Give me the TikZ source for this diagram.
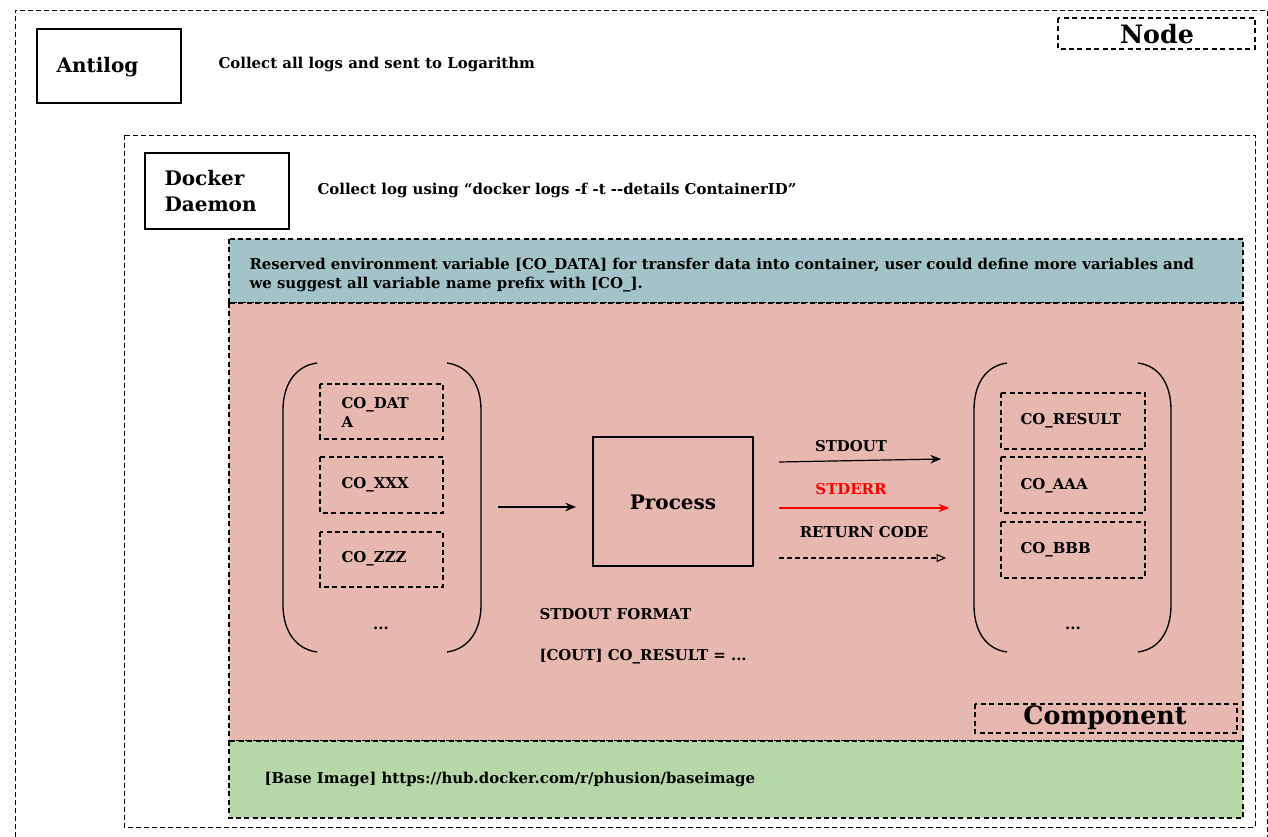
\documentclass[tikz,border=0pt]{standalone}
\usepackage{fontspec}
\setmainfont{DejaVu Serif}
\usetikzlibrary{arrows.meta}

\definecolor{envblue}{HTML}{A2C4C9}
\definecolor{comppink}{HTML}{E6B8AF}
\definecolor{basegreen}{HTML}{B6D7A8}
\definecolor{errred}{HTML}{FF0000}

\tikzset{every picture/.style={line width=0.75pt},
  dashbox/.style={dash pattern=on 3.8pt off 2.5pt, line width=0.9pt},
  thindash/.style={dash pattern=on 3.5pt off 2.5pt, line width=0.6pt},
  txt/.style={font=\fontsize{11.2}{14.25}\selectfont\bfseries, inner sep=0.75pt, align=left},
  midtxt/.style={font=\fontsize{15}{19.5}\selectfont\bfseries, inner sep=0.75pt, align=left},
  bigtxt/.style={font=\fontsize{19}{22}\selectfont\bfseries, inner sep=0.75pt},
  paren/.style={line width=1pt},
  arr/.style={-{Stealth[length=8pt,width=6.5pt]}, line width=0.9pt}
}

\begin{document}
\begin{tikzpicture}[x=0.75pt,y=0.75pt,yscale=-1,xscale=1]
\useasboundingbox (0,0) rectangle (1268,837);

%Shape: Node area
\draw [thindash] (15,845) -- (15,10) -- (1267,10) -- (1267,845) ;
\draw [dashbox] (1058,18) rectangle (1255,49) ;
% Text Node
\draw (1157,34) node [bigtxt] (nodetag) {Node};

%Shape: Antilog
\draw [line width=1.1pt] (37,29) rectangle (181,103) ;
\draw (55,67) node [anchor=west][midtxt] (antilog) {Antilog};
\draw (217,64) node [anchor=west][txt] (antilognote) {Collect all logs and sent to Logarithm};

%Shape: Docker area
\draw [thindash] (124,135) rectangle (1255,827) ;
\draw [line width=1.1pt] (145,153) rectangle (289,229) ;
\draw (163,191) node [anchor=west][midtxt] (daemon) {Docker\\Daemon};
\draw (316,190) node [anchor=west][txt] (daemonnote) {Collect log using “docker logs -f -t -{}-details ContainerID”};

%Shape: Container bands
\draw [dashbox, fill=envblue] (229,239) rectangle (1243,303) ;
\draw [dashbox, fill=comppink] (229,303) rectangle (1243,741) ;
\draw [dashbox, fill=basegreen] (229,741) rectangle (1243,818) ;
\draw (248,275) node [anchor=west][txt] (envnote) {Reserved environment variable [CO\_DATA] for transfer data into container, user could define more variables and\\we suggest all variable name prefix with [CO\_].};
\draw (263,779) node [anchor=west][txt] (basenote) {[Base Image] https://hub.docker.com/r/phusion/baseimage};
\draw [dashbox] (975,704) rectangle (1237,733) ;
\draw (1105,718) node [bigtxt] (comptag) {Component};

%Shape: Input group
\draw [paren] (317,363) .. controls (295,366) and (283,385) .. (283,410) -- (283,605) .. controls (283,630) and (295,649) .. (317,652) ;
\draw [paren] (447,363) .. controls (469,366) and (481,385) .. (481,410) -- (481,605) .. controls (481,630) and (469,649) .. (447,652) ;
\draw [dashbox] (320,384) rectangle (443,439) ;
\draw [dashbox] (320,457) rectangle (443,513) ;
\draw [dashbox] (320,532) rectangle (443,587) ;
\draw (340,412) node [anchor=west][txt] (codata) {CO\_DAT\\A};
\draw (340,485) node [anchor=west][txt] (coxxx) {CO\_XXX};
\draw (340,559) node [anchor=west][txt] (cozzz) {CO\_ZZZ};
\draw (381,628) node [txt] (inmore) {...};

%Shape: Process
\draw [line width=1.1pt] (593,437) rectangle (753,566) ;
\draw (673,502) node [midtxt] (process) {Process};

%Shape: Output group
\draw [paren] (1007,363) .. controls (985,366) and (974,385) .. (974,410) -- (974,605) .. controls (974,630) and (985,649) .. (1007,652) ;
\draw [paren] (1138,363) .. controls (1160,366) and (1171,385) .. (1171,410) -- (1171,605) .. controls (1171,630) and (1160,649) .. (1138,652) ;
\draw [dashbox] (1001,393) rectangle (1145,449) ;
\draw [dashbox] (1001,457) rectangle (1145,513) ;
\draw [dashbox] (1001,522) rectangle (1145,578) ;
\draw (1019,421) node [anchor=west][txt] (coresult) {CO\_RESULT};
\draw (1019,486) node [anchor=west][txt] (coaaa) {CO\_AAA};
\draw (1019,550) node [anchor=west][txt] (cobbb) {CO\_BBB};
\draw (1073,628) node [txt] (outmore) {...};

%Straight Lines
\coordinate (inStart) at (498,507);
\coordinate (inEnd) at (576,507);
\coordinate (outStart) at (779,462);
\coordinate (outEnd) at (941,459);
\coordinate (errStart) at (779,508);
\coordinate (errEnd) at (949,508);
\coordinate (retStart) at (779,558);
\coordinate (retEnd) at (946,558);
\draw [arr] (inStart) -- (inEnd) ;
\draw [arr] (outStart) -- (outEnd) ;
\draw [arr, color=errred] (errStart) -- (errEnd) ;
\draw [dash pattern=on 3.5pt off 2.5pt, line width=0.8pt, -{Triangle[open,length=7pt,width=6pt]}] (retStart) -- (retEnd) ;

% Text Node
\draw (851,446) node [txt] (stdout) {STDOUT};
\draw (851,489) node [txt, text=errred] (stderr) {STDERR};
\draw (864,532) node [txt] (retcode) {RETURN CODE};
\draw (538,614) node [anchor=west][txt] (fmt) {STDOUT FORMAT};
\draw (538,657) node [anchor=west][txt] (fmtline) {[COUT] CO\_RESULT = ...};

\end{tikzpicture}
\end{document}
